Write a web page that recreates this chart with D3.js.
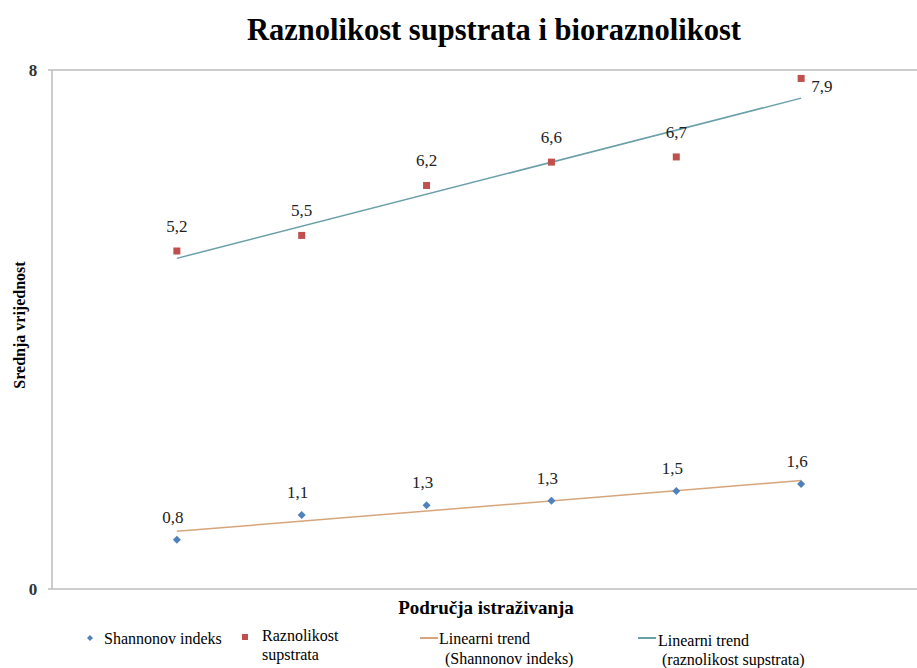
<!doctype html>
<html>
<head>
<meta charset="UTF-8">
<title>Raznolikost supstrata i bioraznolikost</title>
<script src="https://d3js.org/d3.v7.min.js"></script>
<style>
  body { margin: 0; background: #fff; }
</style>
</head>
<body>
<svg id="chart" width="917" height="668" font-family="'Liberation Serif', 'DejaVu Serif', serif"></svg>
<script>
// podaci
var podrucja = [1, 2, 3, 4, 5, 6];
var shannon = [0.76, 1.14, 1.29, 1.36, 1.51, 1.62];
var shannonLabels = ["0,8", "1,1", "1,3", "1,3", "1,5", "1,6"];
var supstrat = [5.21, 5.45, 6.22, 6.58, 6.66, 7.87];
var supstratLabels = ["5,2", "5,5", "6,2", "6,6", "6,7", "7,9"];
var yTicks = [0, 8];

var svg = d3.select("#chart");

var x = d3.scaleLinear().domain([0, 7]).range([52, 926]);
var y = d3.scaleLinear().domain([0, 8]).range([589, 70]);

// linearni trend (najmanji kvadrati)
function trend(xs, ys) {
  var mx = d3.mean(xs), my = d3.mean(ys);
  var num = 0, den = 0;
  for (var i = 0; i < xs.length; i++) {
    num += (xs[i] - mx) * (ys[i] - my);
    den += (xs[i] - mx) * (xs[i] - mx);
  }
  var b = num / den;
  var a = my - b * mx;
  return [[xs[0], a + b * xs[0]], [xs[xs.length - 1], a + b * xs[xs.length - 1]]];
}

// okvir
svg.append("line").attr("x1", 48).attr("x2", 917).attr("y1", y(8)).attr("y2", y(8))
  .attr("stroke", "#bdbdbd").attr("stroke-width", 1.5);
svg.append("line").attr("x1", 48).attr("x2", 917).attr("y1", y(0)).attr("y2", y(0))
  .attr("stroke", "#bdbdbd").attr("stroke-width", 1.5);
svg.append("line").attr("x1", x(0)).attr("x2", x(0)).attr("y1", y(8)).attr("y2", y(0))
  .attr("stroke", "#bdbdbd").attr("stroke-width", 1.5);

svg.selectAll(".ytick").data(yTicks).enter().append("text")
  .attr("x", 33).attr("y", function(d){ return y(d) + 6; })
  .attr("text-anchor", "middle").attr("font-size", 17).attr("font-weight", "bold")
  .attr("fill", "#333").text(function(d){ return d; });

// naslov
svg.append("text").attr("x", 494).attr("y", 40).attr("text-anchor", "middle")
  .attr("font-size", 30.5).attr("font-weight", "bold").text("Raznolikost supstrata i bioraznolikost");
svg.append("text").attr("x", 486).attr("y", 614).attr("text-anchor", "middle")
  .attr("font-size", 19).attr("font-weight", "bold").text("Područja istraživanja");
svg.append("text").attr("transform", "translate(25,325) rotate(-90)").attr("text-anchor", "middle")
  .attr("font-size", 16).attr("font-weight", "bold").text("Srednja vrijednost");

// trend linije
var line = d3.line().x(function(d){ return x(d[0]); }).y(function(d){ return y(d[1]); });
svg.append("path").attr("d", line(trend(podrucja, supstrat)))
  .attr("fill", "none").attr("stroke", "#6a9fa7").attr("stroke-width", 1.5);
svg.append("path").attr("d", line(trend(podrucja, shannon)))
  .attr("fill", "none").attr("stroke", "#d6a57c").attr("stroke-width", 1.5);

// tocke
svg.selectAll(".sq").data(supstrat).enter().append("rect")
  .attr("x", function(d, i){ return x(podrucja[i]) - 3.5; })
  .attr("y", function(d){ return y(d) - 3.5; })
  .attr("width", 7).attr("height", 7).attr("fill", "#c0504d");
svg.selectAll(".dm").data(shannon).enter().append("path")
  .attr("d", "M0,-4L4,0L0,4L-4,0Z")
  .attr("transform", function(d, i){ return "translate(" + x(podrucja[i]) + "," + y(d) + ")"; })
  .attr("fill", "#4f81bd");

// oznake
svg.selectAll(".lsq").data(supstrat).enter().append("text")
  .attr("x", function(d, i){ return i == 5 ? x(podrucja[i]) + 10 : x(podrucja[i]); })
  .attr("y", function(d, i){ return i == 5 ? y(d) + 14 : y(d) - 19; })
  .attr("text-anchor", function(d, i){ return i == 5 ? "start" : "middle"; })
  .attr("font-size", 17).attr("fill", "#222")
  .text(function(d, i){ return supstratLabels[i]; });
svg.selectAll(".ldm").data(shannon).enter().append("text")
  .attr("x", function(d, i){ return x(podrucja[i]) - 4; })
  .attr("y", function(d){ return y(d) - 17; })
  .attr("text-anchor", "middle")
  .attr("font-size", 17).attr("fill", "#222")
  .text(function(d, i){ return shannonLabels[i]; });

// legenda
var lg = svg.append("g");
lg.append("path").attr("d", "M0,-3L3,0L0,3L-3,0Z").attr("transform", "translate(90,638)").attr("fill", "#4f81bd");
lg.append("text").attr("x", 104).attr("y", 644).attr("font-size", 16).text("Shannonov indeks");
lg.append("rect").attr("x", 242).attr("y", 634).attr("width", 6).attr("height", 6).attr("fill", "#c0504d");
lg.append("text").attr("x", 262).attr("y", 641).attr("font-size", 16).text("Raznolikost");
lg.append("text").attr("x", 262).attr("y", 660).attr("font-size", 16).text("supstrata");
lg.append("line").attr("x1", 420).attr("x2", 438).attr("y1", 638).attr("y2", 638)
  .attr("stroke", "#d6a57c").attr("stroke-width", 2);
lg.append("text").attr("x", 439).attr("y", 644).attr("font-size", 16).text("Linearni  trend");
lg.append("text").attr("x", 445).attr("y", 664).attr("font-size", 16).text("(Shannonov indeks)");
lg.append("line").attr("x1", 638).attr("x2", 656).attr("y1", 638).attr("y2", 638)
  .attr("stroke", "#6a9fa7").attr("stroke-width", 2);
lg.append("text").attr("x", 658).attr("y", 646).attr("font-size", 16).text("Linearni trend");
lg.append("text").attr("x", 662).attr("y", 665).attr("font-size", 16).text("(raznolikost supstrata)");
</script>
</body>
</html>
